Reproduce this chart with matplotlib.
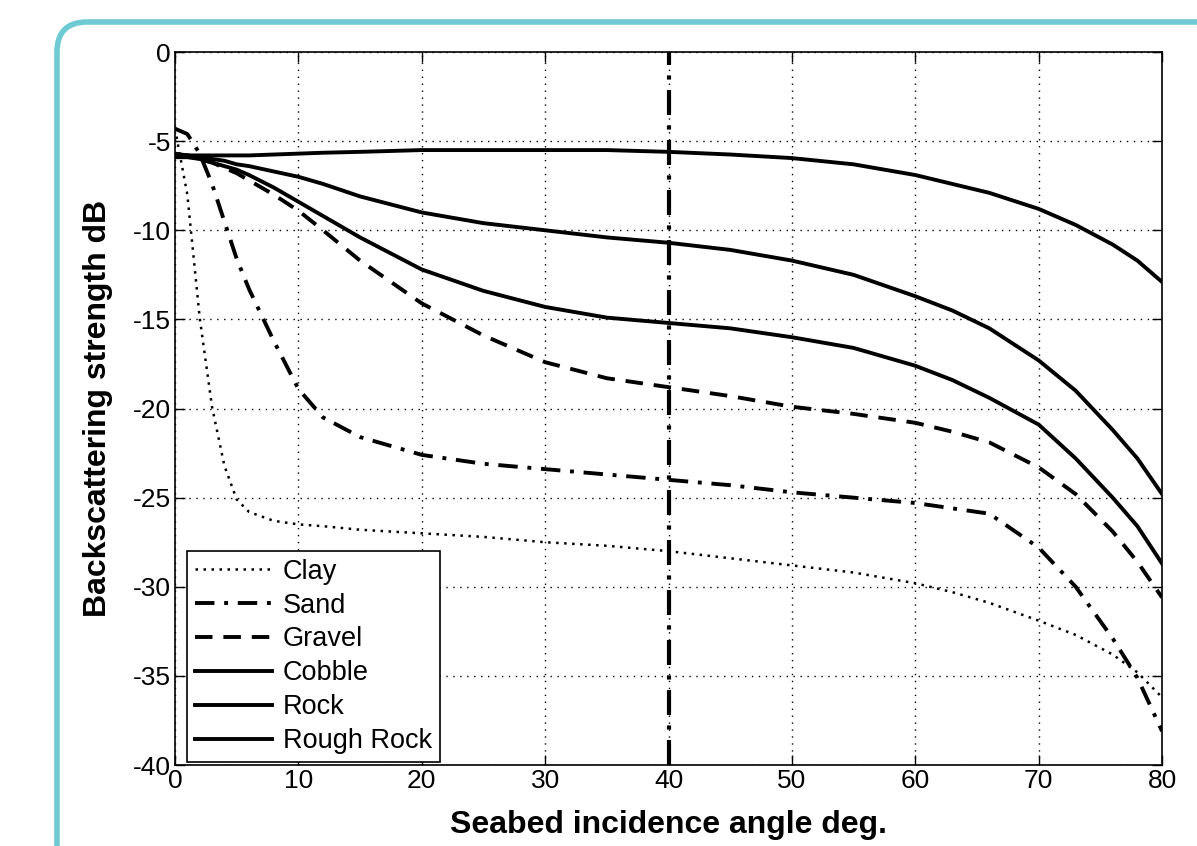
import matplotlib
matplotlib.use('Agg')
import matplotlib.pyplot as plt
from matplotlib.patches import FancyBboxPatch
from matplotlib.transforms import IdentityTransform

plt.rcParams['font.family'] = ['Liberation Sans', 'DejaVu Sans']
plt.rcParams['axes.unicode_minus'] = False

# incidence angle grid (deg) where values were read
angle = [0, 1, 2, 3, 4, 5, 6, 8, 10, 12, 15, 20, 25, 30, 35, 40, 45, 50,
         55, 60, 63, 66, 70, 73, 76, 78, 80]

clay = [-4.3, -8.0, -14.9, -19.9, -23.2, -25.1, -25.8, -26.3, -26.5, -26.6,
        -26.8, -27.0, -27.2, -27.5, -27.7, -28.0, -28.4, -28.8, -29.2, -29.8,
        -30.3, -30.9, -31.9, -32.7, -33.8, -34.8, -36.2]
sand = [-4.3, -4.6, -5.7, -7.4, -9.5, -11.6, -13.3, -16.2, -18.9, -20.5,
        -21.6, -22.6, -23.1, -23.4, -23.7, -24.0, -24.3, -24.7, -25.0, -25.3,
        -25.6, -25.9, -27.8, -30.0, -32.9, -35.1, -38.1]
gravel = [-5.8, -5.8, -6.0, -6.2, -6.5, -6.8, -7.2, -8.0, -8.9, -10.0,
          -11.7, -14.1, -15.9, -17.4, -18.3, -18.8, -19.3, -19.9, -20.3, -20.8,
          -21.3, -21.9, -23.3, -24.8, -26.9, -28.6, -30.6]
cobble = [-5.9, -5.9, -6.0, -6.2, -6.4, -6.6, -6.9, -7.6, -8.4, -9.2,
          -10.4, -12.2, -13.4, -14.3, -14.9, -15.2, -15.5, -16.0, -16.6, -17.6,
          -18.4, -19.4, -20.9, -22.8, -25.0, -26.6, -28.7]
rock = [-5.8, -5.8, -5.9, -6.0, -6.1, -6.3, -6.4, -6.7, -7.0, -7.4,
        -8.1, -9.0, -9.6, -10.0, -10.4, -10.7, -11.1, -11.7, -12.5, -13.7,
        -14.5, -15.5, -17.3, -19.0, -21.2, -22.8, -24.8]
rough_rock = [-5.7, -5.8, -5.8, -5.8, -5.8, -5.8, -5.8, -5.75, -5.7, -5.65,
              -5.6, -5.5, -5.5, -5.5, -5.5, -5.6, -5.75, -5.95, -6.3, -6.9,
              -7.4, -7.9, -8.8, -9.7, -10.8, -11.7, -12.9]

marker_angle = 40

fig = plt.figure(figsize=(11.97, 8.46), dpi=100)
ax = fig.add_axes([0.1462, 0.0957, 0.8246, 0.8428])

lw = 2.8
ax.plot(angle, clay, color='k', lw=1.8, linestyle=(0, (1, 2.2)), label='Clay')
ax.plot(angle, sand, color='k', lw=lw, linestyle=(0, (5, 2.5, 1, 2.5)), label='Sand')
ax.plot(angle, gravel, color='k', lw=lw, linestyle=(0, (4.5, 2.8)), label='Gravel')
ax.plot(angle, cobble, color='k', lw=lw, label='Cobble')
ax.plot(angle, rock, color='k', lw=lw, label='Rock')
ax.plot(angle, rough_rock, color='k', lw=lw, label='Rough Rock')

ax.axvline(marker_angle, color='k', lw=3, linestyle=(0, (6, 2.5, 1, 2.5)))

ax.set_xlim(0, 80)
ax.set_ylim(-40, 0)
ax.set_xticks(range(0, 81, 10))
ax.set_yticks(range(-40, 1, 5))
ax.grid(True, color='k', linestyle=(0, (1, 4)), lw=1.0)
ax.tick_params(direction='in', top=True, right=True, length=7, width=1,
               labelsize=19, pad=3)
for s in ax.spines.values():
    s.set_linewidth(1.2)

ax.set_xlabel('Seabed incidence angle deg.', fontsize=23, fontweight='bold', labelpad=12)
ax.set_ylabel('Backscattering strength dB', fontsize=23, fontweight='bold', labelpad=14)

leg = ax.legend(loc='lower left', bbox_to_anchor=(0.012, 0.004), fontsize=19.5,
                handlelength=2.85, handletextpad=0.4, labelspacing=0.29,
                borderpad=0.3, fancybox=False, framealpha=1, edgecolor='k',
                borderaxespad=0)
leg.get_frame().set_linewidth(1.2)

# rounded teal frame around the figure (runs off right/bottom edges)
frame = FancyBboxPatch((57, -200), 1400, 846 - 22 + 200,
                       boxstyle='round,pad=0,rounding_size=30',
                       transform=IdentityTransform(), fill=False,
                       edgecolor='#6ecbd3', lw=4)
fig.patches.append(frame)

fig.savefig('out.png', dpi=100)
